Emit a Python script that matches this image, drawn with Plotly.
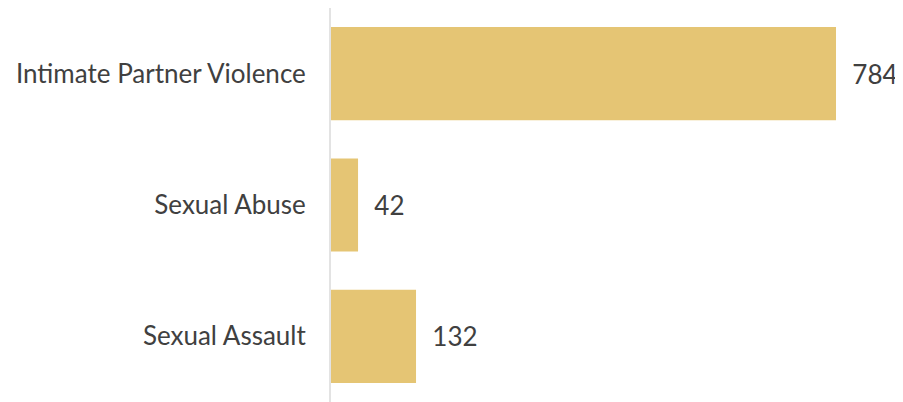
import plotly.graph_objects as go

categories = ["Intimate Partner Violence", "Sexual Abuse", "Sexual Assault"]
values = [784, 42, 132]

bar_color = "#E5C574"
text_color = "#404040"
font_family = "Lato, Open Sans, sans-serif"

fig = go.Figure(
    go.Bar(
        x=values,
        y=categories,
        orientation="h",
        marker=dict(color=bar_color, line=dict(width=0)),
        text=values,
        texttemplate="  %{x}",
        textposition="outside",
        textfont=dict(family=font_family, size=26, color=text_color),
        cliponaxis=False,
    )
)

fig.update_layout(
    width=895,
    height=394,
    margin=dict(l=323, r=0, t=0, b=0, autoexpand=False),
    paper_bgcolor="white",
    plot_bgcolor="white",
    bargap=0.29,
    showlegend=False,
    font=dict(family=font_family, size=26, color=text_color),
)
fig.update_xaxes(range=[0, 888], visible=False, showgrid=False, zeroline=False)
fig.update_yaxes(
    autorange="reversed",
    showline=True,
    linecolor="#E3E3E3",
    linewidth=2,
    showgrid=False,
    ticks="",
    ticklabelstandoff=18,
    tickfont=dict(family=font_family, size=26, color=text_color),
)

fig.write_html("out.html")
